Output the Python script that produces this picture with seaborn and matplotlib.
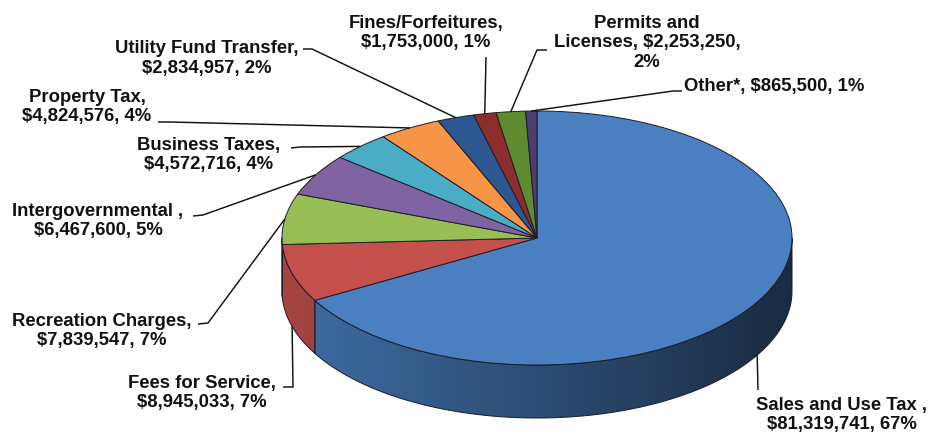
import numpy as np
import matplotlib
matplotlib.use("Agg")
import matplotlib.pyplot as plt
from matplotlib.patches import Polygon
from matplotlib.colors import to_rgb
import seaborn as sns

# ---- data -------------------------------------------------------------
categories = [
    "Sales and Use Tax", "Fees for Service", "Recreation Charges",
    "Intergovernmental", "Business Taxes", "Property Tax",
    "Utility Fund Transfer", "Fines/Forfeitures", "Permits and Licenses",
    "Other*",
]
amounts = [81319741, 8945033, 7839547, 6467600, 4572716,
           4824576, 2834957, 1753000, 2253250, 865500]
percent_labels = ["67%", "7%", "7%", "5%", "4%", "4%", "2%", "1%", "2%", "1%"]
label_templates = [
    "Sales and Use Tax ,\n{amt}, {pct}",
    "Fees for Service,\n{amt}, {pct}",
    "Recreation Charges,\n{amt}, {pct}",
    "Intergovernmental ,\n{amt}, {pct}",
    "Business Taxes,\n{amt}, {pct}",
    "Property Tax,\n{amt}, {pct}",
    "Utility Fund Transfer,\n{amt}, {pct}",
    "Fines/Forfeitures,\n{amt}, {pct}",
    "Permits and\nLicenses, {amt},\n{pct}",
    "Other*, {amt}, {pct}",
]

# ---- styling ----------------------------------------------------------
top_colors = ["#4a7fc1", "#c4504c", "#98bf55", "#8064a2", "#4bacc6",
              "#f79646", "#2d5791", "#8c2d2b", "#5e8a30", "#4d3b72"]

# label placement in pixel space: (x, first baseline y, ha)
label_pos = [
    (842, 410, "center"), (202, 388, "center"), (102, 326, "center"),
    (98, 216, "center"), (209, 150, "center"), (87, 102, "center"),
    (207, 53, "center"), (426, 28, "center"), (647, 28, "center"),
    (684, 91, "left"),
]
# where each leader touches the pie: on the top rim or the bottom of the wall
leader_attach = ["side", "side", "top", "top", "top", "top", "top", "top", "top", "top"]
# leader path near the text, in pixel space
leader_tail = [
    [(758, 390)],
    [(293, 387), (283, 387)],
    [(208, 323), (198, 324)],
    [(203, 215), (193, 216)],
    [(300, 147), (291, 148)],
    [(170, 122), (158, 122)],
    [(312, 49), (303, 49)],
    [(486, 57)],
    [(537, 50), (547, 50)],
    [(673, 91), (682, 91)],
]

W, H = 932, 434
CX, CY, RX, RY, DEPTH = 537, 238, 255, 127, 53
LINE_STEP = 19.5

sns.set_theme(style="white")
plt.rcParams["font.family"] = ["Liberation Sans", "DejaVu Sans"]

fig = plt.figure(figsize=(W / 100, H / 100), dpi=100)
fig.patch.set_facecolor("white")
ax = fig.add_axes([0, 0, 1, 1])


def to_data(px, py):
    return ((px - CX) / RX, (CY - py) / RY)


def wall_shade(x):
    # light comes from the left: the wall darkens toward the right
    return np.clip(0.6 - 0.26 * x, 0.3, 1.0)


d = DEPTH / RY
vals = np.array(amounts, dtype=float)
fracs = vals / vals.sum()
ends = 90 - 360 * np.cumsum(fracs)
starts = ends + 360 * fracs

# ---- side wall (front half only) ---------------------------------------
for i, (lo, hi) in enumerate(zip(ends, starts)):
    a, b = max(lo, -180.0), min(hi, 0.0)
    if b <= a:
        continue
    t = np.radians(np.linspace(a, b, 400))
    outline = np.concatenate([
        np.column_stack([np.cos(t), np.sin(t)]),
        np.column_stack([np.cos(t[::-1]), np.sin(t[::-1]) - d]),
    ])
    x0, x1 = outline[:, 0].min(), outline[:, 0].max()
    y0, y1 = outline[:, 1].min(), outline[:, 1].max()
    xs = np.linspace(x0, x1, 256)
    base = np.array(to_rgb(top_colors[i]))
    grad = (wall_shade(xs)[:, None] * base[None, :])[None, :, :]
    im = ax.imshow(grad, extent=[x0, x1, y0, y1], origin="lower",
                   aspect="auto", interpolation="bilinear", zorder=1)
    clip = Polygon(outline, closed=True, transform=ax.transData)
    im.set_clip_path(clip)
    ax.add_patch(Polygon(outline, closed=True, fill=False,
                         edgecolor="#1a1a2a", linewidth=0.7, zorder=2))

# ---- top face ------------------------------------------------------------
ax.pie(amounts, startangle=90, counterclock=False, colors=top_colors,
       radius=1, center=(0, 0),
       wedgeprops=dict(edgecolor="#1c1c24", linewidth=0.7, zorder=3))
ax.set_aspect("auto")
ax.set_xlim(-CX / RX, (W - CX) / RX)
ax.set_ylim((CY - H) / RY, CY / RY)
ax.axis("off")

# ---- labels and leader lines -------------------------------------------
for i in range(len(amounts)):
    mid = np.radians(0.5 * (ends[i] + starts[i]))
    ax_pt = (np.cos(mid), np.sin(mid) - (d if leader_attach[i] == "side" else 0))
    path = [ax_pt] + [to_data(*p) for p in leader_tail[i]]
    px_, py_ = zip(*path)
    ax.plot(px_, py_, color="#111111", lw=1.05, zorder=5, solid_capstyle="butt")

    text = label_templates[i].format(amt=f"${amounts[i]:,}", pct=percent_labels[i])
    px, py, ha = label_pos[i]
    for j, line in enumerate(text.split("\n")):
        tx, ty = to_data(px, py + j * LINE_STEP)
        ax.text(tx, ty, line, ha=ha, va="baseline", fontsize=13.3,
                fontweight="bold", color="#111111", zorder=6)

fig.savefig("out.png", dpi=100, facecolor="white")
